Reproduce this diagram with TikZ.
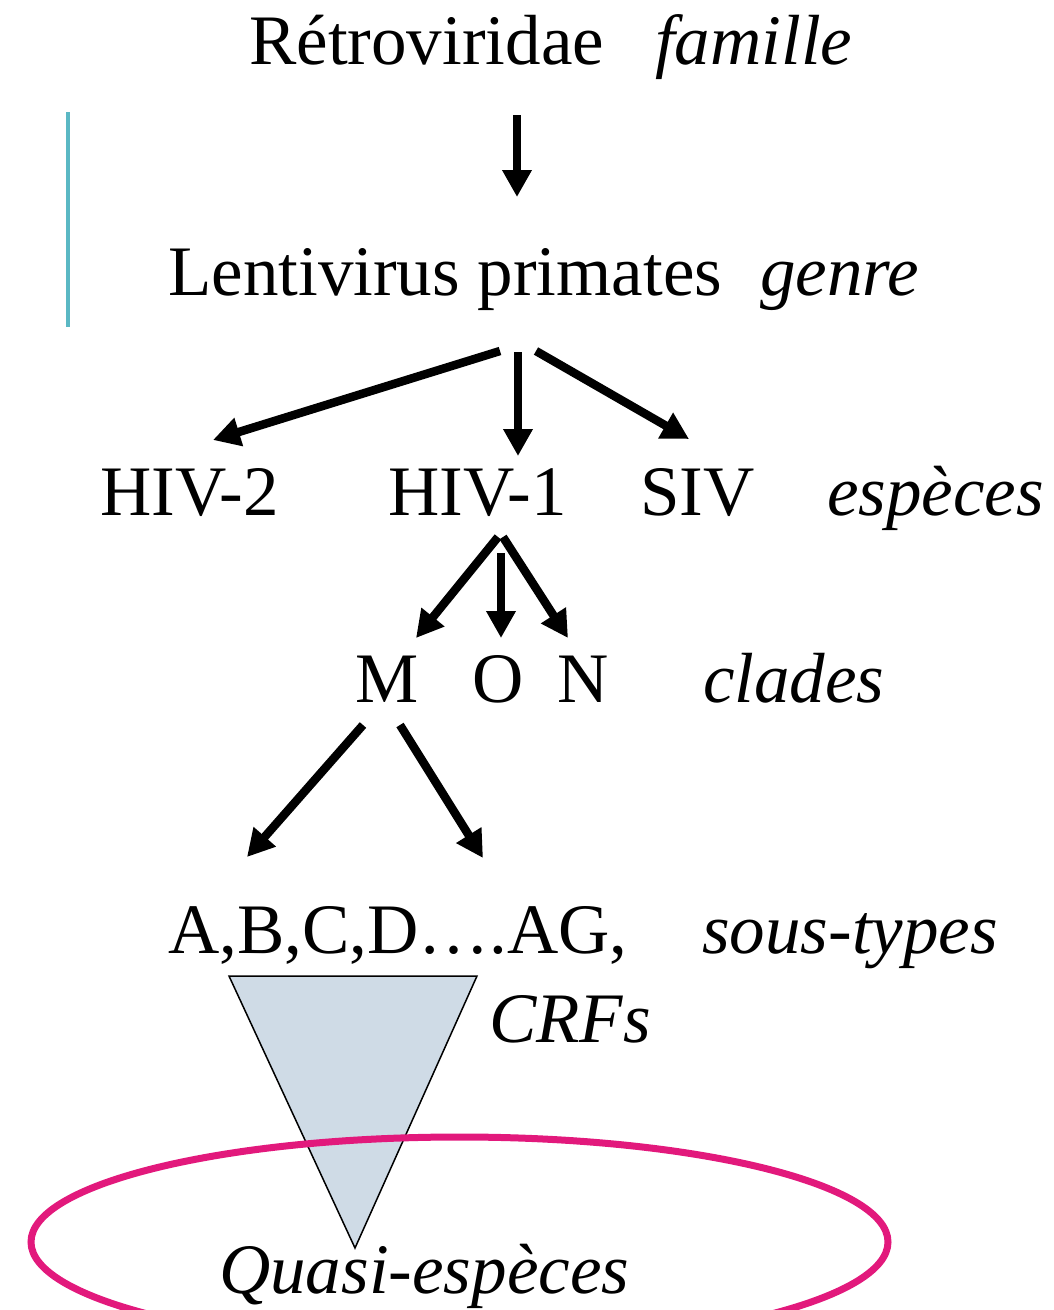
\documentclass[tikz,border=0pt]{standalone}
\usepackage{fontspec}
\setmainfont{Liberation Serif}
\usetikzlibrary{arrows.meta}
\definecolor{barteal}{HTML}{5BB8C4}
\definecolor{qspink}{HTML}{E2197C}
\definecolor{crffill}{HTML}{CFDBE6}
\begin{document}
\begin{tikzpicture}[x=1pt,y=-1pt,
  lbl/.style={anchor=base west, inner sep=0pt, font=\fontsize{71}{80}\selectfont},
  tag/.style={anchor=base west, inner sep=0pt, font=\fontsize{71}{80}\selectfont\itshape},
  arr/.style={line width=8.5pt, -{Triangle[length=27pt,width=28pt]}}]
\useasboundingbox (0,0) rectangle (1053,1310);
\clip (0,0) rectangle (1053,1310);

% vertical bar on the left
\coordinate (barTop) at (68,112);
\coordinate (barBot) at (68,327);
\draw[barteal, line width=4.5pt] (barTop) -- (barBot);

% taxonomy levels
\node[lbl] (retro) at (249,64) {Rétroviridae};
\node[tag] (famille) at (655,64) {famille};
\node[lbl] (lenti) at (168,295) {Lentivirus primates};
\node[tag] (genre) at (760,295) {genre};
\node[lbl] (hiv2) at (100,515) {HIV-2};
\node[lbl] (hiv1) at (388,515) {HIV-1};
\node[lbl] (siv) at (640,515) {SIV};
\node[tag] (especes) at (827,515) {espèces};
\node[lbl] (cladeM) at (355,702) {M};
\node[lbl] (cladeO) at (472,702) {O};
\node[lbl] (cladeN) at (557,702) {N};
\node[tag] (clades) at (703,702) {clades};
\node[lbl] (subtypes) at (168,953) {A,B,C,D….AG,};
\node[tag] (soustypes) at (702,953) {sous-types};
\node[tag] (crfs) at (489,1042) {CRFs};

% arrow end points
\coordinate (a1s) at (517,115);  \coordinate (a1e) at (517,197);
\coordinate (gls) at (500,351);  \coordinate (gle) at (213,440);
\coordinate (gms) at (518,352);  \coordinate (gme) at (518,456);
\coordinate (grs) at (536,351);  \coordinate (gre) at (689,439);
\coordinate (hls) at (498,537);  \coordinate (hle) at (416,638);
\coordinate (hms) at (501,553);  \coordinate (hme) at (501,638);
\coordinate (hrs) at (503,537);  \coordinate (hre) at (568,638);
\coordinate (mls) at (363,725);  \coordinate (mle) at (247,857);
\coordinate (mrs) at (400,725);  \coordinate (mre) at (483,858);

\draw[arr] (a1s) -- (a1e);
\draw[arr] (gls) -- (gle);
\draw[arr] (gms) -- (gme);
\draw[arr] (grs) -- (gre);
\draw[arr] (hls) -- (hle);
\draw[arr] (hms) -- (hme);
\draw[arr] (hrs) -- (hre);
\draw[arr] (mls) -- (mle);
\draw[arr] (mrs) -- (mre);

% funnel from subtypes down to quasi-species
\coordinate (triL) at (229,976);
\coordinate (triR) at (477,976);
\coordinate (triB) at (355,1248);
\draw[fill=crffill, line width=1.5pt, line join=miter] (triL) -- (triR) -- (triB) -- cycle;

% quasi-species ellipse
\coordinate (qsC) at (459.5,1242);
\draw[qspink, line width=7pt] (qsC) ellipse [x radius=428.5, y radius=105];
\node[tag] (quasi) at (219,1293) {Quasi-espèces};
\end{tikzpicture}
\end{document}
